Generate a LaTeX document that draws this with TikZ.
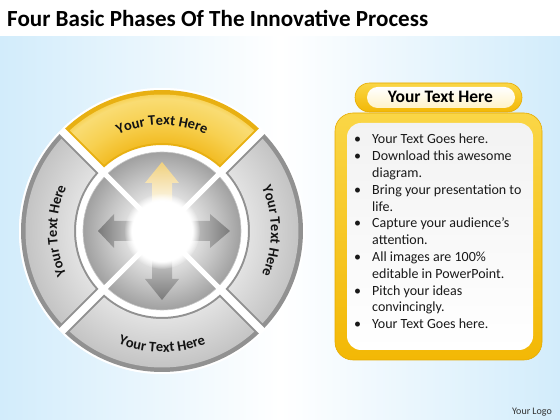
\documentclass[tikz,border=0pt]{standalone}
\usepackage{graphicx}
\usepackage{fontspec}
\setmainfont{Carlito}
\usetikzlibrary{decorations.text,fadings}
\definecolor{bgblue}{RGB}{210,236,251}
\definecolor{seglight}{RGB}{226,226,226}
\definecolor{segdark}{RGB}{195,195,195}
\definecolor{rimgray}{RGB}{145,145,145}
\definecolor{rimyel}{RGB}{232,176,18}
\definecolor{yelA}{RGB}{242,188,36}
\definecolor{yelB}{RGB}{247,208,80}
\definecolor{yelC}{RGB}{249,220,115}
\definecolor{diskA}{RGB}{230,230,230}
\definecolor{diskB}{RGB}{194,194,194}
\definecolor{diskC}{RGB}{160,160,160}
\definecolor{arrowgray}{RGB}{122,122,122}
\definecolor{arrowlight}{RGB}{215,215,215}
\definecolor{arrowyel}{RGB}{240,208,125}
\definecolor{boxyelL}{RGB}{250,214,70}
\definecolor{boxyelD}{RGB}{243,184,5}
\definecolor{boxedge}{RGB}{230,170,0}
\definecolor{pillin}{RGB}{255,243,200}
\definecolor{segtext}{RGB}{20,20,20}
\pgfdeclareradialshading{segshade}{\pgfpoint{0bp}{0bp}}{color(0bp)=(seglight); color(15.5bp)=(seglight); color(24.5bp)=(segdark); color(50bp)=(segdark)}
\pgfdeclareradialshading{yelshade}{\pgfpoint{0bp}{0bp}}{color(0bp)=(yelA); color(15.5bp)=(yelA); color(19.5bp)=(yelB); color(23.5bp)=(yelC); color(24.5bp)=(yelB); color(50bp)=(yelB)}
\pgfdeclareradialshading{diskshade}{\pgfpoint{0bp}{0bp}}{color(0bp)=(white); color(5bp)=(white); color(10bp)=(diskA); color(18bp)=(diskB); color(25bp)=(diskC); color(50bp)=(diskC)}
\newcommand\segpath[3]{({45+asin(#1/#3)}:#3) arc[start angle={45+asin(#1/#3)}, end angle={135-asin(#1/#3)}, radius=#3] -- ({135-asin(#1/#2)}:#2) arc[start angle={135-asin(#1/#2)}, end angle={45+asin(#1/#2)}, radius=#2] -- cycle}
\newcommand\segfont{\bfseries\fontsize{14.5}{16}\selectfont}
\newcommand\bodyfont{\fontsize{14}{16.8}\selectfont}
\tikzset{
  segtextstyle/.style={decorate, decoration={text along path, text={|\segfont|#1}, text align=center, text color=segtext}},
  bodyline/.style={anchor=base west, inner sep=0, font=\bodyfont, text=black!90},
  bulletmark/.style={anchor=base, inner sep=0, font=\bodyfont, text=black!90}
}
\begin{document}
\begin{tikzpicture}[x=1pt,y=1pt]
\useasboundingbox (0,0) rectangle (560,420);
% background
\fill[white] (0,0) rectangle (560,420);
\shade[left color=bgblue, right color=bgblue, middle color=white] (0,0) rectangle (560,383);
\node[anchor=base west, inner sep=0] (title) at (7,393.3) {\resizebox{421pt}{!}{\bfseries Four Basic Phases Of The Innovative Process}};

% circular diagram
\begin{scope}[shift={(162,189)}]
  \fill[white] (0,0) circle (143);
  \shade[shading=diskshade] (0,0) circle (79);
  \draw[gray!45, line width=0.6] (0,0) circle (79);
  \draw[white, line width=5] (45:80) -- (225:80);
  \draw[white, line width=5] (135:80) -- (315:80);
  % arrows
  \shade[top color=arrowyel, bottom color=white] (-10,20) -- (-10,48) -- (-17,48) -- (0,69) -- (17,48) -- (10,48) -- (10,20) -- cycle;
  \shade[bottom color=arrowgray, top color=arrowlight] (-10,-20) -- (-10,-48) -- (-17,-48) -- (0,-69) -- (17,-48) -- (10,-48) -- (10,-20) -- cycle;
  \shade[right color=arrowgray, left color=arrowlight] (20,-10) -- (48,-10) -- (48,-17) -- (68,0) -- (48,17) -- (48,10) -- (20,10) -- cycle;
  \shade[left color=arrowgray, right color=arrowlight] (-20,-10) -- (-48,-10) -- (-48,-17) -- (-64,0) -- (-48,17) -- (-48,10) -- (-20,10) -- cycle;
  % glow
  \fill[white, path fading=circle with fuzzy edge 20 percent] (0,0) circle (38);
  \fill[white, opacity=0.7] (0,0) circle (26);
  \fill[white] (0,0) circle (21);
  % segments
  \foreach \r/\rim/\sh in {0/rimyel/yelshade, 90/rimgray/segshade, 180/rimgray/segshade, 270/rimgray/segshade} {
    \begin{scope}[rotate=\r]
      \fill[white] \segpath{2}{84}{143};
      \fill[\rim] \segpath{4}{86}{141};
      \begin{scope}
        \clip \segpath{6}{88}{136.5};
        \shade[shading=\sh] (0,0) circle (141);
      \end{scope}
    \end{scope}
  }
  % curved labels
  \path[segtextstyle={Your Text Here}] (125:106) arc[start angle=125, end angle=55, radius=106];
  \path[segtextstyle={Your Text Here}] (215:105) arc[start angle=215, end angle=145, radius=105];
  \path[segtextstyle={Your Text Here}] (35:109) arc[start angle=35, end angle=-35, radius=109];
  \path[segtextstyle={Your Text Here}] (235:121) arc[start angle=235, end angle=305, radius=121];
\end{scope}

% right panel
\shade[top color=boxyelL, bottom color=boxyelD, rounded corners=18, draw=boxedge, line width=0.6] (335,60) rectangle (542,307);
\shade[top color=gray!10, bottom color=white, rounded corners=14] (347,70) rectangle (533,297);
\shade[top color=boxyelL, bottom color=boxyelD, rounded corners=14.5, draw=boxedge, line width=0.6] (355,308) rectangle (522,337);
\shade[top color=white, bottom color=pillin, rounded corners=10.5] (367,312) rectangle (515,333);
\node[inner sep=0, font=\bfseries\fontsize{17.5}{20}\selectfont] (header) at (440.5,323.5) {Your Text Here};

\foreach \t [count=\i from 0] in {{Your Text Goes here.},{Download this awesome},{diagram.},{Bring your presentation to},{life.},{Capture your audience’s},{attention.},{All images are 100\%},{editable in PowerPoint.},{Pitch your ideas},{convincingly.},{Your Text Goes here.}} {
  \node[bodyline] (line\i) at (372,{276-16.8*\i}) {\t};
}
\foreach \i in {0,1,3,5,7,9,11} {
  \node[bulletmark] (bul\i) at (357.5,{276-16.8*\i}) {•};
}
\node[inner sep=0, font=\fontsize{10}{12}\selectfont, text=black!80] (logo) at (532,8) {Your Logo};
\end{tikzpicture}
\end{document}
